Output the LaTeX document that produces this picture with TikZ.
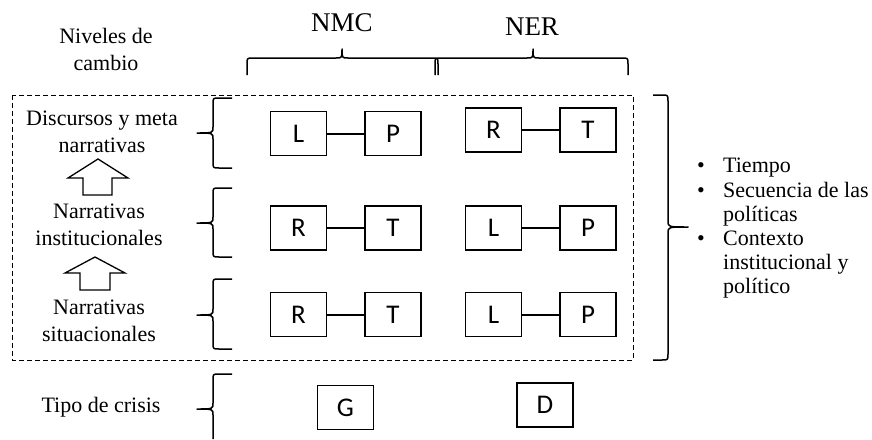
\documentclass[tikz,border=0pt]{standalone}
\usepackage{fontspec}
\setmainfont{Liberation Serif}
\newfontfamily\boxfont{Carlito}
\begin{document}
\begin{tikzpicture}[x=1pt,y=-1pt,
  lbl/.style={font=\fontsize{22}{27}\selectfont, align=center, inner sep=0pt},
  bul/.style={font=\fontsize{22}{25.5}\selectfont, inner sep=0pt, anchor=base west},
  headlbl/.style={font=\fontsize{27}{30}\selectfont, inner sep=0pt},
  letterbox/.style={draw, line width=1.3pt, minimum width=56pt, minimum height=44pt, inner sep=0pt, font=\boxfont\fontsize{27}{30}\selectfont},
  link/.style={line width=2pt},
  bracestyle/.style={line width=1.5pt, line join=round},
  frame/.style={line width=0.9pt, dash pattern=on 5pt off 3pt},
  blockarrow/.style={line width=1.3pt, fill=white, line join=miter}
]
\useasboundingbox (0,0) rectangle (872,439);

% dashed frame
\draw[frame] (12,95) rectangle (633,360);

% headings
\node[lbl] (niv) at (106,49) {Niveles de\\cambio};
\node[headlbl] (nmc) at (342,23) {NMC};
\node[headlbl] (ner) at (532,27) {NER};

% top braces
\draw[bracestyle] (247,75) -- (247,64) .. controls (247,58) .. (253,58) -- (336,58) .. controls (342,58) .. (342,49)
  .. controls (342,58) .. (348,58) -- (432,58) .. controls (438,58) .. (438,64) -- (438,75);
\draw[bracestyle] (435,75) -- (435,64) .. controls (435,58) .. (441,58) -- (527,58) .. controls (533,58) .. (533,49)
  .. controls (533,58) .. (539,58) -- (622,58) .. controls (628,58) .. (628,64) -- (628,75);

% left labels
\node[lbl] (disc) at (102,132) {Discursos y meta\\narrativas};
\node[lbl] (inst) at (99,225) {Narrativas\\institucionales};
\node[lbl] (sit) at (99,320.5) {Narrativas\\situacionales};
\node[lbl] (tipo) at (101,407) {Tipo de crisis};

% block arrows
\draw[blockarrow] (83,195) -- (83,178) -- (68,178) -- (98,159) -- (128,178) -- (112,178) -- (112,195) -- cycle;
\draw[blockarrow] (80,290) -- (80,273) -- (65,273) -- (95,257) -- (125,273) -- (110,273) -- (110,290) -- cycle;

% left braces (tip pointing left)
\draw[bracestyle] (232,98) -- (219,98) .. controls (213,98) .. (213,104) -- (213,127) .. controls (213,133) .. (197,133)
  .. controls (213,133) .. (213,139) -- (213,162) .. controls (213,168) .. (219,168) -- (232,168);
\draw[bracestyle] (232,188) -- (219,188) .. controls (213,188) .. (213,194) -- (213,217) .. controls (213,223) .. (197,223)
  .. controls (213,223) .. (213,229) -- (213,251) .. controls (213,257) .. (219,257) -- (232,257);
\draw[bracestyle] (232,279) -- (219,279) .. controls (213,279) .. (213,285) -- (213,309) .. controls (213,315) .. (197,315)
  .. controls (213,315) .. (213,321) -- (213,343) .. controls (213,349) .. (219,349) -- (232,349);
\draw[bracestyle] (232,374) -- (219,374) .. controls (213,374) .. (213,380) -- (213,403) .. controls (213,409) .. (197,409)
  .. controls (213,409) .. (213,415) -- (213,439);

% right brace (tip pointing right)
\draw[bracestyle] (653,95) -- (662,95) .. controls (668,95) .. (668,101) -- (668,221) .. controls (668,227) .. (688,227)
  .. controls (668,227) .. (668,233) -- (668,354) .. controls (668,360) .. (662,360) -- (653,360);

% row 1
\node[letterbox] (a1) at (298.5,133.5) {L};
\node[letterbox] (b1) at (393,133.5) {P};
\draw[link] (a1) -- (b1);
\node[letterbox] (c1) at (493.5,130) {R};
\node[letterbox] (d1) at (588,130) {T};
\draw[link] (c1) -- (d1);

% row 2
\node[letterbox] (a2) at (298.5,228) {R};
\node[letterbox] (b2) at (393,228) {T};
\draw[link] (a2) -- (b2);
\node[letterbox] (c2) at (493.5,228) {L};
\node[letterbox] (d2) at (588,228) {P};
\draw[link] (c2) -- (d2);

% row 3
\node[letterbox] (a3) at (298.5,314.5) {R};
\node[letterbox] (b3) at (393,314.5) {T};
\draw[link] (a3) -- (b3);
\node[letterbox] (c3) at (493.5,314.5) {L};
\node[letterbox] (d3) at (588,314.5) {P};
\draw[link] (c3) -- (d3);

% crisis type
\node[letterbox] (g) at (345.5,407.5) {G};
\node[letterbox] (dd) at (545,405) {D};

% bullet list
\node[bul] (bu1) at (697,172) {\textbullet};
\node[bul] (t1) at (723,172) {Tiempo};
\node[bul] (bu2) at (697,197) {\textbullet};
\node[bul] (t2) at (723,197) {Secuencia de las};
\node[bul] (t3) at (723,221) {políticas};
\node[bul] (bu3) at (697,245) {\textbullet};
\node[bul] (t4) at (723,245) {Contexto};
\node[bul] (t5) at (723,269) {institucional y};
\node[bul] (t6) at (723,293) {político};
\end{tikzpicture}
\end{document}
